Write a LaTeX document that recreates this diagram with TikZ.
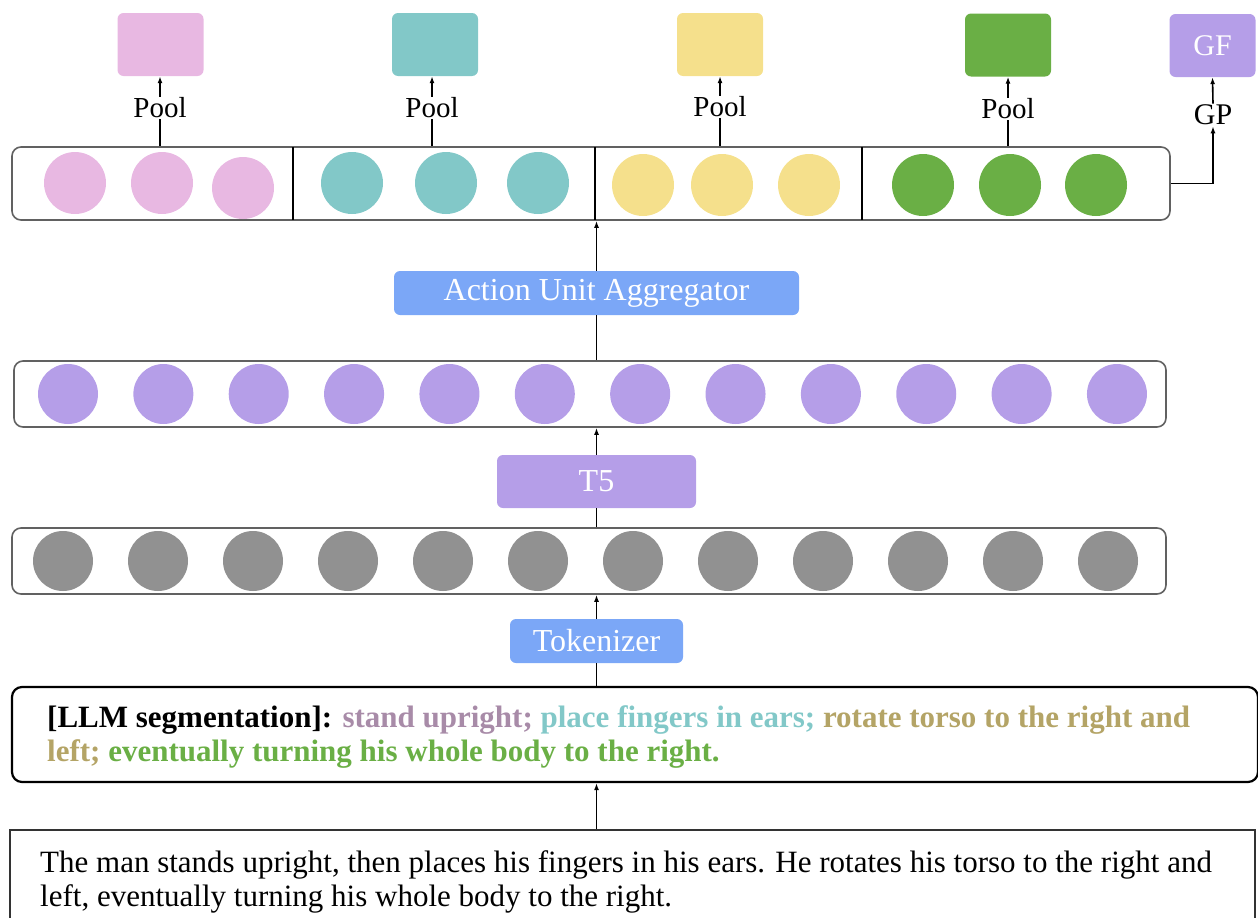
\documentclass[tikz,border=0pt]{standalone}
\usepackage{fontspec}
\setmainfont{Liberation Serif}
\usetikzlibrary{positioning,arrows.meta}

\definecolor{unitpink}{HTML}{E8B8E2}
\definecolor{unitteal}{HTML}{82C8C8}
\definecolor{unityellow}{HTML}{F5E08C}
\definecolor{unitgreen}{HTML}{6AAF45}
\definecolor{tfpurple}{HTML}{B59EE8}
\definecolor{tokgray}{HTML}{919191}
\definecolor{modblue}{HTML}{7BA7F7}
\definecolor{segmauve}{HTML}{A88BA8}
\definecolor{segkhaki}{HTML}{B4A466}

\begin{document}
\begin{tikzpicture}[
    x=1pt,y=-1pt,
    font=\fontsize{29pt}{34pt}\selectfont,
    featbox/.style={rectangle,rounded corners=6pt,minimum width=86pt,minimum height=63pt,inner sep=0pt},
    unitbar/.style={rectangle,draw=black!62,line width=1.6pt,rounded corners=9pt,inner sep=0pt},
    dot/.style={circle,inner sep=0pt,minimum size=62pt},
    module/.style={rectangle,rounded corners=6pt,text=white,inner sep=0pt,font=\fontsize{32pt}{34pt}\selectfont},
    lbl/.style={inner sep=1pt},
    bigtext/.style={anchor=north west,align=left,inner sep=0pt,font=\fontsize{31pt}{34pt}\selectfont},
    arr/.style={-{Latex[length=7pt,width=5pt]},line width=1.6pt},
    link/.style={line width=1.6pt}
  ]
  \useasboundingbox (0,0) rectangle (1258,918);

  % pooled unit features
  \node(f1) [featbox,fill=unitpink] at (160.5,44.5) {};
  \node(f2) [featbox,fill=unitteal] at (435,44.5) {};
  \node(f3) [featbox,fill=unityellow] at (720,44.5) {};
  \node(f4) [featbox,fill=unitgreen] at (1008,45) {};
  \node(gf) [featbox,fill=tfpurple,text=white,font=\fontsize{30pt}{34pt}\selectfont] at (1212.5,45.5) {GF};

  \node(p1) [lbl] at (160,108) {Pool};
  \node(p2) [lbl] at (432,108) {Pool};
  \node(p3) [lbl] at (720,107) {Pool};
  \node(p4) [lbl] at (1008,109) {Pool};
  \node(gp) [lbl,font=\fontsize{30pt}{34pt}\selectfont] at (1213,115) {GP};

  % action unit bar
  \node(ubar) [unitbar,minimum width=1158pt,minimum height=73pt] at (591,183.5) {};
  \draw[link] (293,147) -- (293,220);
  \draw[link] (595,147) -- (595,220);
  \draw[link] (862,147) -- (862,220);

  \node(u1) [dot,fill=unitpink] at (75,183) {};
  \node(u2) [dot,fill=unitpink] at (162,183) {};
  \node(u3) [dot,fill=unitpink] at (243,188) {};
  \node(u4) [dot,fill=unitteal] at (352,183) {};
  \node(u5) [dot,fill=unitteal] at (446,183) {};
  \node(u6) [dot,fill=unitteal] at (538,183) {};
  \node(u7) [dot,fill=unityellow] at (643,185) {};
  \node(u8) [dot,fill=unityellow] at (722,185) {};
  \node(u9) [dot,fill=unityellow] at (809,185) {};
  \node(u10) [dot,fill=unitgreen] at (923,185) {};
  \node(u11) [dot,fill=unitgreen] at (1010,185) {};
  \node(u12) [dot,fill=unitgreen] at (1096,185) {};

  \foreach \i in {1,...,4} {
    \draw[link] (p\i.south |- ubar.north) -- (p\i.south);
    \draw[arr] (p\i.north) -- (p\i.north |- f\i.south);
  }
  \draw[arr] (ubar.east) -| (gp.south);
  \draw[arr] (gp.north) -- (gf.south);

  % modules
  \node(aua) [module,fill=modblue,minimum width=405pt,minimum height=44pt] at (596.5,293) {Action Unit Aggregator};
  \node(t5) [module,fill=tfpurple,minimum width=199pt,minimum height=53pt] at (596.5,481.5) {T5};
  \node(tok) [module,fill=modblue,minimum width=173pt,minimum height=44pt] at (596.5,641) {Tokenizer};

  % text embeddings
  \node(ebar) [unitbar,minimum width=1152pt,minimum height=66pt] at (590,394) {};
  \foreach \i in {0,...,11}
    \node(e\i) [dot,minimum size=60pt,fill=tfpurple] at (68+95.36*\i,394) {};

  % tokens
  \node(tbar) [unitbar,minimum width=1154pt,minimum height=66pt] at (589,561) {};
  \foreach \i in {0,...,11}
    \node(k\i) [dot,minimum size=60pt,fill=tokgray] at (63+95*\i,561) {};

  % segmentation and description
  \node(seg) [rectangle,draw,line width=2.2pt,rounded corners=10pt,minimum width=1246pt,minimum height=95pt] at (635,734.5) {};
  \node(segtxt) [bigtext,font=\fontsize{31pt}{34pt}\selectfont\bfseries] at (47,705)
    {[LLM segmentation]: \textcolor{segmauve}{stand upright;} \textcolor{unitteal}{place fingers in ears;} \textcolor{segkhaki}{rotate torso to the right and}\\
     \textcolor{segkhaki}{left;} \textcolor{unitgreen}{eventually turning his whole body to the right.}};

  \node(desc) [rectangle,draw=black!80,line width=1.6pt,minimum width=1245pt,minimum height=100pt] at (632.5,880) {};
  \node(desctxt) [bigtext] at (40,850)
    {The man stands upright, then places his fingers in his ears. He rotates his torso to the right and\\
     left, eventually turning his whole body to the right.};

  % flow
  \draw[arr] (tok.center |- desc.north) -- (tok.center |- seg.south);
  \draw[link] (tok.center |- seg.north) -- (tok.south);
  \draw[arr] (tok.north) -- (tok.center |- tbar.south);
  \draw[link] (t5.center |- tbar.north) -- (t5.south);
  \draw[arr] (t5.north) -- (t5.center |- ebar.south);
  \draw[link] (aua.center |- ebar.north) -- (aua.south);
  \draw[arr] (aua.north) -- (aua.center |- ubar.south);
\end{tikzpicture}
\end{document}
